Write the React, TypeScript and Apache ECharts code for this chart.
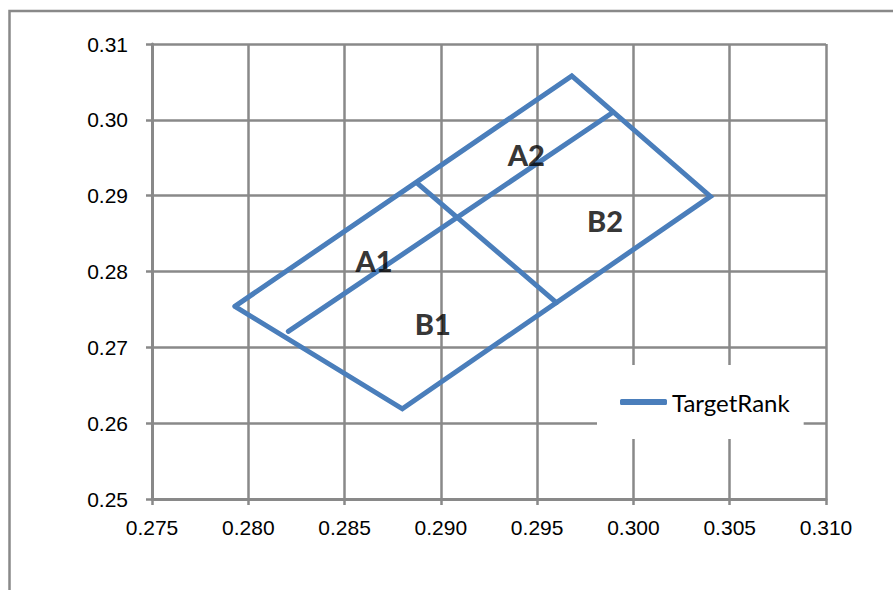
import React, { useEffect, useRef } from "react";
import * as echarts from "echarts";

// Outline of the quadrilateral (closed)
const outlineX = [0.2793, 0.2968, 0.304, 0.288, 0.2793];
const outlineY = [0.2754, 0.3058, 0.2899, 0.2619, 0.2754];
// Long dividing line (A / B)
const midX = [0.28208, 0.29894];
const midY = [0.2721, 0.301];
// Short dividing line (1 / 2)
const crossX = [0.2888, 0.296];
const crossY = [0.2916, 0.2759];
// Region labels
const regionNames = ["A1", "A2", "B1", "B2"];
const regionX = [0.28653, 0.29444, 0.28958, 0.29853];
const regionY = [0.28146, 0.29546, 0.27313, 0.28674];

const xTicks = { min: 0.275, max: 0.31, interval: 0.005 };
const yTicks = { min: 0.25, max: 0.31, interval: 0.01 };

const pair = (xs: number[], ys: number[]) => xs.map((x, i) => [x, ys[i]]);

export default function App() {
  const ref = useRef<HTMLDivElement>(null);
  useEffect(() => {
    const chart = echarts.init(ref.current!, undefined, { renderer: "svg" });
    const gray = "#898989";
    const blue = "#4a7ebb";
    const lineSeries = (data: number[][]) => ({
      name: "TargetRank",
      type: "line",
      data,
      showSymbol: false,
      symbol: "none",
      lineStyle: { color: blue, width: 5, cap: "round", join: "miter" },
      itemStyle: { color: blue },
      z: 3,
    });
    chart.setOption({
      animation: false,
      backgroundColor: "#ffffff",
      graphic: [
        {
          type: "rect",
          shape: { x: 9.5, y: 11, width: 900, height: 600 },
          style: { fill: "none", stroke: gray, lineWidth: 2.5 },
          silent: true,
        },
      ],
      grid: { left: 152, top: 44, right: 67, bottom: 91 },
      xAxis: {
        type: "value",
        min: xTicks.min,
        max: xTicks.max,
        interval: xTicks.interval,
        axisLine: { show: true, lineStyle: { color: gray, width: 3 } },
        axisTick: { show: true, length: 6, lineStyle: { color: gray, width: 2.5 } },
        splitLine: { show: true, lineStyle: { color: gray, width: 2.5 } },
        axisLabel: {
          formatter: (v: number) => v.toFixed(3),
          fontFamily: "Liberation Sans, Arial",
          fontSize: 21,
          color: "#000",
          margin: 18,
        },
      },
      yAxis: {
        type: "value",
        min: yTicks.min,
        max: yTicks.max,
        interval: yTicks.interval,
        axisLine: { show: true, lineStyle: { color: gray, width: 3 } },
        axisTick: { show: true, length: 6, lineStyle: { color: gray, width: 2.5 } },
        splitLine: { show: true, lineStyle: { color: gray, width: 2.5 } },
        axisLabel: {
          formatter: (v: number) => v.toFixed(2),
          fontFamily: "Liberation Sans, Arial",
          fontSize: 21,
          color: "#000",
          margin: 24,
        },
      },
      legend: {
        data: ["TargetRank"],
        left: 597,
        top: 365,
        orient: "horizontal",
        backgroundColor: "#ffffff",
        padding: [25, 14, 25, 23],
        itemWidth: 47,
        itemHeight: 6,
        icon: "roundRect",
        textStyle: { fontFamily: "Lato", fontSize: 24, color: "#000" },
        z: 10,
      },
      series: [
        lineSeries(pair(outlineX, outlineY)),
        lineSeries(pair(midX, midY)),
        lineSeries(pair(crossX, crossY)),
        {
          name: "labels",
          type: "scatter",
          symbolSize: 0,
          data: regionNames.map((n, i) => ({ name: n, value: [regionX[i], regionY[i]] })),
          label: {
            show: true,
            position: "inside",
            formatter: (p: any) => p.name,
            fontFamily: "Lato",
            fontWeight: 900,
            fontSize: 29,
            color: "#000",
          },
          z: 4,
        },
      ],
    });
    return () => chart.dispose();
  }, []);
  return (
    <div
      ref={ref}
      style={{ position: "fixed", left: 0, top: 0, width: 893, height: 590 }}
    />
  );
}
